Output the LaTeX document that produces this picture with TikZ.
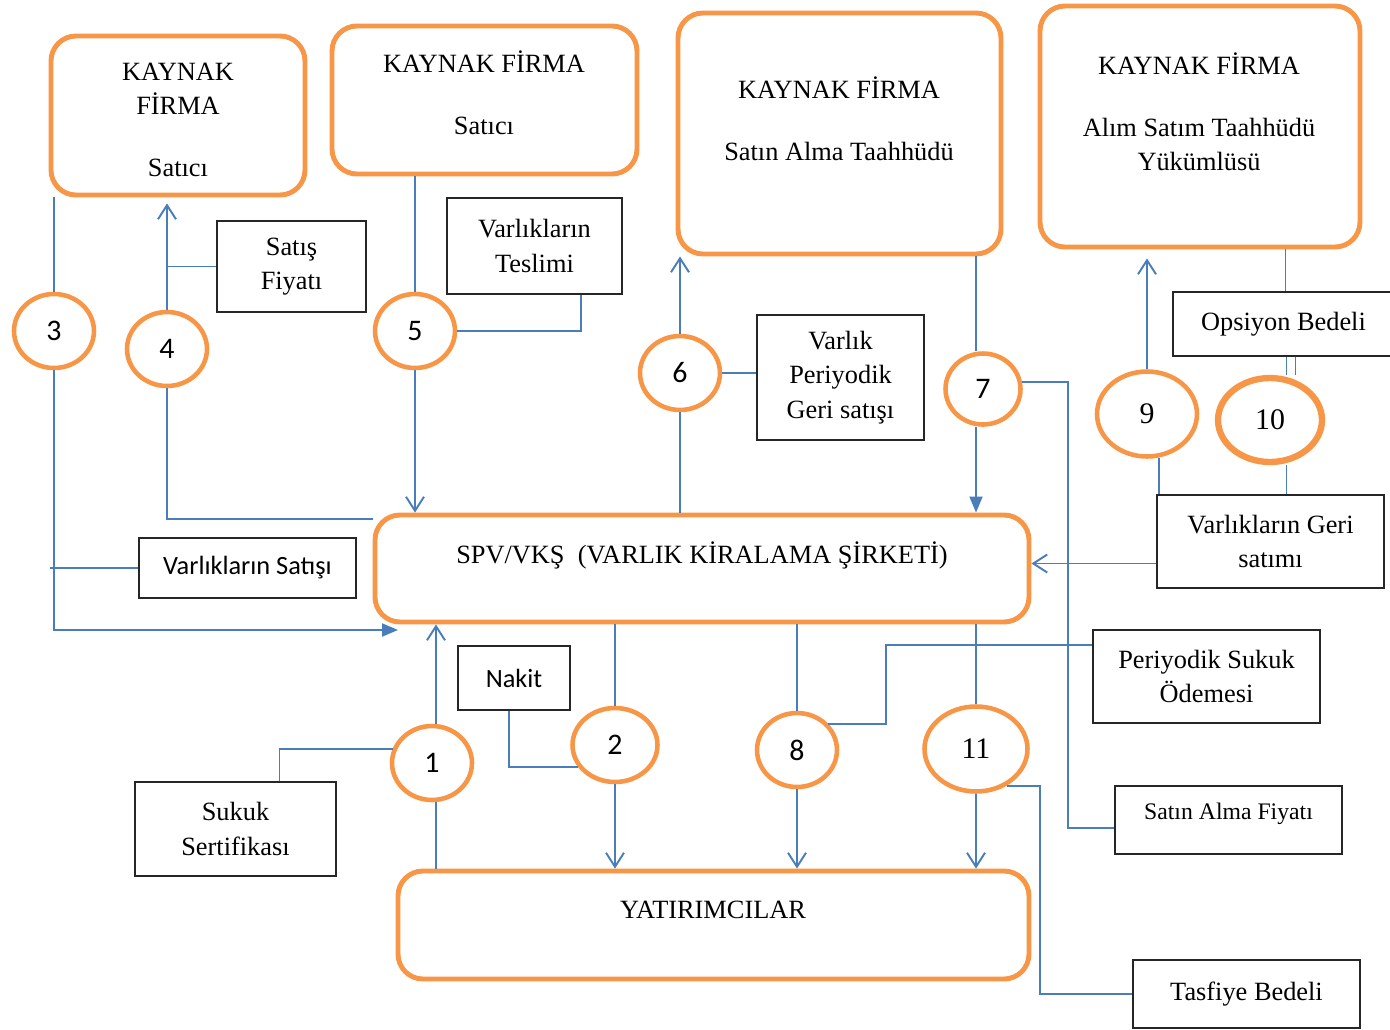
\documentclass[tikz,border=0pt]{standalone}
\usepackage{fontspec}
\setmainfont{Liberation Serif}
\newfontfamily\calibri{Carlito}
\usetikzlibrary{positioning, arrows.meta, fit, shapes.geometric}

\definecolor{turuncu}{RGB}{247,150,70}
\definecolor{mavi}{RGB}{74,126,187}

\tikzset{
  kaynak/.style={draw=turuncu, line width=2.8pt, rounded corners=0.5cm, inner sep=0pt},
  etiket/.style={draw=black!85, line width=0.8pt, align=center, inner sep=2pt},
  adim/.style={ellipse, draw=turuncu, line width=2.6pt, inner sep=0pt,
    minimum width=1.6cm, minimum height=1.48cm, font=\calibri\fontsize{17}{20}\selectfont},
  adimb/.style={adim, minimum width=2cm, minimum height=1.7cm, font=\fontsize{17}{20}\selectfont},
  ok/.style={draw=mavi, line width=1.1pt},
  acik/.style={-{Straight Barb[length=2.8mm, width=3.6mm]}},
  dolu/.style={-{Triangle[length=3.2mm, width=2.6mm]}},
}

\begin{document}
\begin{tikzpicture}[x=0.02cm, y=-0.02cm, font=\fontsize{15}{19.5}\selectfont]
\useasboundingbox (0,0) rectangle (1390,1029);

% kutular
\node[kaynak, fit={(51,36) (305,195)}] (kf1) {};
\node[kaynak, fit={(332,26) (637,174)}] (kf2) {};
\node[kaynak, fit={(678,13) (1001,254)}] (kf3) {};
\node[kaynak, fit={(1040,6) (1360,247)}] (kf4) {};
\node[kaynak, fit={(375,515) (1029,622)}] (spv) {};
\node[kaynak, fit={(398,871) (1029,979)}] (yat) {};

\node[align=center] (kf1y) at (178,120) {KAYNAK\\FİRMA\\[0.55cm]Satıcı};
\node[align=center] (kf2y) at (484,93) {KAYNAK FİRMA\\[0.55cm]Satıcı};
\node[align=center] (kf3y) at (839,119) {KAYNAK FİRMA\\[0.55cm]Satın Alma Taahhüdü};
\node[align=center] (kf4y) at (1199,112) {KAYNAK FİRMA\\[0.55cm]Alım Satım Taahhüdü\\Yükümlüsü};
\node (spvy) at (702,555) {SPV/VKŞ~~(VARLIK KİRALAMA ŞİRKETİ)};
\node (yaty) at (713,910) {YATIRIMCILAR};

% etiketler
\node[etiket, minimum width=2.98cm, minimum height=1.82cm] (sf) at (291.5,266.5) {Satış\\Fiyatı};
\node[etiket, minimum width=3.5cm, minimum height=1.92cm] (vt) at (534.5,246) {Varlıkların\\Teslimi};
\node[etiket, minimum width=3.34cm, minimum height=2.5cm] (vp) at (840.5,377.5) {Varlık\\Periyodik\\Geri satışı};
\node[etiket, minimum width=4.42cm, minimum height=1.28cm] (ob) at (1283.5,324) {Opsiyon Bedeli};
\node[etiket, minimum width=4.54cm, minimum height=1.86cm] (vgs) at (1270.5,541.5) {Varlıkların Geri\\satımı};
\node[etiket, minimum width=4.34cm, minimum height=1.2cm, font=\calibri\fontsize{15}{18}\selectfont] (vs) at (247.5,568) {Varlıkların Satışı};
\node[etiket, minimum width=2.24cm, minimum height=1.28cm, font=\calibri\fontsize{15}{18}\selectfont] (nk) at (514,678) {Nakit};
\node[etiket, minimum width=4.02cm, minimum height=1.88cm] (ss) at (235.5,829) {Sukuk\\Sertifikası};
\node[etiket, minimum width=4.54cm, minimum height=1.86cm] (psu) at (1206.5,676.5) {Periyodik Sukuk\\Ödemesi};
\node[etiket, minimum width=4.54cm, minimum height=1.36cm, font=\fontsize{13.5}{16}\selectfont] (saf) at (1228.5,820) {Satın Alma Fiyatı\\[-0.2cm]};
\node[etiket, minimum width=4.54cm, minimum height=1.36cm] (tb) at (1246.5,994) {Tasfiye Bedeli};

% adimlar
\foreach \n/\x/\y in {3/54/331, 4/167/349, 5/415/331, 6/680/373, 1/432/763, 8/797/750}
  \node[adim] (c\n) at (\x,\y) {\n};
\node[adim, minimum width=1.7cm] (c2) at (615,745) {2};
\node[adim, minimum width=1.5cm, minimum height=1.42cm] (c7) at (983,389) {7};
\node[adimb] (c9) at (1147,414) {9};
\node[adimb, line width=3.6pt, minimum width=2.08cm, minimum height=1.68cm] (c10) at (1270,420) {10};
\node[adimb, minimum width=2.06cm] (c11) at (976,749) {11};

\coordinate (ok3) at (398,630);

% baglantilar
\draw[ok, acik] ([xshift=0.08cm]c1.north) -- ([xshift=0.08cm]c1.north |- spv.south);
\draw[ok] ([xshift=0.08cm]c1.south) -- ([xshift=0.08cm]c1.south |- yat.north);
\draw[ok] ([xshift=0.88cm]ss.north) |- (c1.160);

\draw[ok] (c2.north |- spv.south) -- (c2.north);
\draw[ok, acik] (c2.south) -- (c2.south |- yat.north);
\draw[ok] ([xshift=-0.1cm]nk.south) |- (c2.210);

\draw[ok] (c3.north |- kf1.south) -- (c3.north);
\draw[ok, dolu] (c3.south) |- (ok3);
\draw[ok] (vs.west) -- ([xshift=-0.08cm]vs.west -| c3.south);

\draw[ok, acik] (c4.north) -- ([yshift=-0.12cm]c4.north |- kf1.south);
\draw[ok] (sf.west) -- (sf.west -| c4.north);
\draw[ok] (c4.south) |- ([yshift=-0.12cm]spv.north west);

\draw[ok] (c5.north |- kf2.south) -- (c5.north);
\draw[ok, acik] (c5.south) -- (c5.south |- spv.north);
\draw[ok] (c5.east) -| ([xshift=-0.84cm]vt.south east);

\draw[ok] (c6.south |- spv.north) -- (c6.south);
\draw[ok, acik] (c6.north) -- (c6.north |- kf3.south);
\draw[ok] (c6.east) -- (c6.east -| vp.west);

\draw[ok] ([xshift=-0.14cm]c7.north |- kf3.south) -- ([xshift=-0.14cm]c7.north);
\draw[ok, dolu] ([xshift=-0.14cm]c7.south) -- ([xshift=-0.14cm]c7.south |- spv.north);
\draw[ok] (c7.10) -- ++(46,0) |- ([yshift=-0.16cm]saf.west);

\draw[ok] (c8.north |- spv.south) -- (c8.north);
\draw[ok, acik] (c8.south) -- (c8.south |- yat.north);
\draw[ok] (c8.40) -- ++(58,0) |- ([yshift=-0.32cm]psu.north west);

\draw[ok, acik] (c9.north) -- ([yshift=-0.18cm]c9.north |- kf4.south);
\draw[ok] (c9.-75) -- (c9.-75 |- vgs.north);
\draw[ok, acik] ([yshift=-0.44cm]vgs.west) -- ([yshift=-0.44cm]vgs.west -| spv.east);

\draw[ok] ([xshift=0.04cm]ob.north |- kf4.south) -- ([xshift=0.04cm]ob.north);
\foreach \dx in {0.06cm, 0.24cm}
  \draw[ok] ([xshift=\dx]ob.south) -- ([xshift=\dx]ob.south |- c10.north);
\draw[ok] ([xshift=0.06cm]c10.south -| ob.south) -- ([xshift=0.06cm]vgs.north -| ob.south);

\draw[ok] (c11.north |- spv.south) -- (c11.north);
\draw[ok, acik] (c11.south) -- (c11.south |- yat.north);
\draw[ok] (c11.-50) -- ++(33,0) |- (tb.west);
\end{tikzpicture}
\end{document}
